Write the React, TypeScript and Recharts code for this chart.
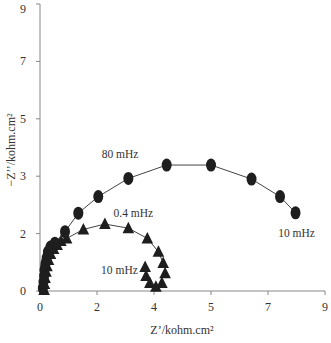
import React from 'react';
import { ScatterChart, Scatter, XAxis, YAxis, ReferenceDot } from 'recharts';

const xTicks = [0, 1.8, 3.6, 5.4, 7.2, 9];
const xTickLabels = ['0', '2', '4', '5', '7', '9'];
const yTicks = [0, 1.8, 3.6, 5.4, 7.2, 9];
const yTickLabels = ['0', '2', '3', '5', '7', '9'];

const circleX = [0.09, 0.11, 0.13, 0.14, 0.17, 0.21, 0.25, 0.33, 0.47, 0.79, 1.21, 1.84, 2.79, 4.0, 5.4, 6.68, 7.58, 8.07];
const circleY = [0.09, 0.28, 0.47, 0.66, 0.85, 1.03, 1.22, 1.38, 1.5, 1.86, 2.44, 2.96, 3.53, 3.95, 3.95, 3.51, 2.96, 2.45];

const triArcX = [0.13, 0.14, 0.16, 0.19, 0.22, 0.27, 0.33, 0.43, 0.54, 0.66, 0.84, 1.37, 2.05, 2.79, 3.39, 3.74, 3.89];
const triArcY = [0.03, 0.22, 0.41, 0.6, 0.78, 0.97, 1.16, 1.32, 1.44, 1.57, 1.65, 1.93, 2.1, 1.97, 1.65, 1.23, 0.88];
const triTailX = [3.95, 3.85, 3.66, 3.47, 3.35, 3.32];
const triTailY = [0.56, 0.25, 0.13, 0.25, 0.47, 0.75];

const labelTexts = ['80 mHz', '0.4 mHz', '10 mHz', '10 mHz'];
const labelX = [2.53, 2.95, 2.51, 8.1];
const labelY = [4.29, 2.45, 0.67, 1.83];

const xTitle = 'Z’/kohm.cm²';
const yTitle = '−Z’’/kohm.cm²';

const circles = circleX.map((x, i) => ({ x, y: circleY[i] }));
const triArc = triArcX.map((x, i) => ({ x, y: triArcY[i] }));
const triTail = triTailX.map((x, i) => ({ x, y: triTailY[i] }));

const FONT = '"Liberation Serif", "Times New Roman", serif';
const MARK = '#1e1e1e';
const TXT = '#333';

const CircleShape = (p: any) => <ellipse cx={p.cx} cy={p.cy} rx={5} ry={6.5} fill={MARK} />;
const TriShape = (p: any) => (
  <polygon
    points={`${p.cx},${p.cy - 6.5} ${p.cx - 5.8},${p.cy + 5} ${p.cx + 5.8},${p.cy + 5}`}
    fill={MARK}
  />
);

const XTick = (p: any) => (
  <text x={p.x} y={p.y + 14} textAnchor="middle" fill={TXT} fontSize={12} fontFamily={FONT}>
    {xTickLabels[p.index]}
  </text>
);
const YTick = (p: any) => (
  <text x={p.x - 8} y={p.y} textAnchor="end" dominantBaseline="central" fill={TXT} fontSize={12} fontFamily={FONT}>
    {yTickLabels[p.index]}
  </text>
);

export default function App() {
  return (
    <div style={{ position: 'absolute', left: 0, top: 0, width: 331, height: 343, background: '#fff', fontFamily: FONT }}>
      <ScatterChart width={331} height={343} margin={{ top: 4, right: 6, left: 0, bottom: 0 }}>
        <XAxis
          type="number"
          dataKey="x"
          domain={[0, 9]}
          ticks={xTicks}
          height={52}
          stroke="#888"
          tickSize={4}
          tick={XTick}
        />
        <YAxis
          type="number"
          dataKey="y"
          domain={[0, 9]}
          ticks={yTicks}
          width={40}
          stroke="#888"
          tickSize={4}
          tick={YTick}
        />
        <Scatter
          data={triArc}
          line={{ stroke: '#444', strokeWidth: 1 }}
          lineType="joint"
          shape={TriShape}
          isAnimationActive={false}
        />
        <Scatter data={triTail} shape={TriShape} isAnimationActive={false} />
        <Scatter
          data={circles}
          line={{ stroke: '#444', strokeWidth: 1 }}
          lineType="joint"
          shape={CircleShape}
          isAnimationActive={false}
        />
        {labelTexts.map((t, i) => (
          <ReferenceDot
            key={i}
            x={labelX[i]}
            y={labelY[i]}
            r={0}
            fill="none"
            stroke="none"
            label={{ value: t, position: 'center', fill: TXT, fontSize: 11.5, fontFamily: FONT }}
          />
        ))}
      </ScatterChart>
      <svg width={331} height={343} style={{ position: 'absolute', left: 0, top: 0, pointerEvents: 'none' }}>
        <text x={182} y={330} textAnchor="middle" dominantBaseline="central" fill={TXT} fontSize={12} fontFamily={FONT}>
          {xTitle}
        </text>
        <text
          x={11}
          y={150}
          transform="rotate(-90 11 150)"
          textAnchor="middle"
          dominantBaseline="central"
          fill={TXT}
          fontSize={12}
          fontFamily={FONT}
        >
          {yTitle}
        </text>
      </svg>
    </div>
  );
}
